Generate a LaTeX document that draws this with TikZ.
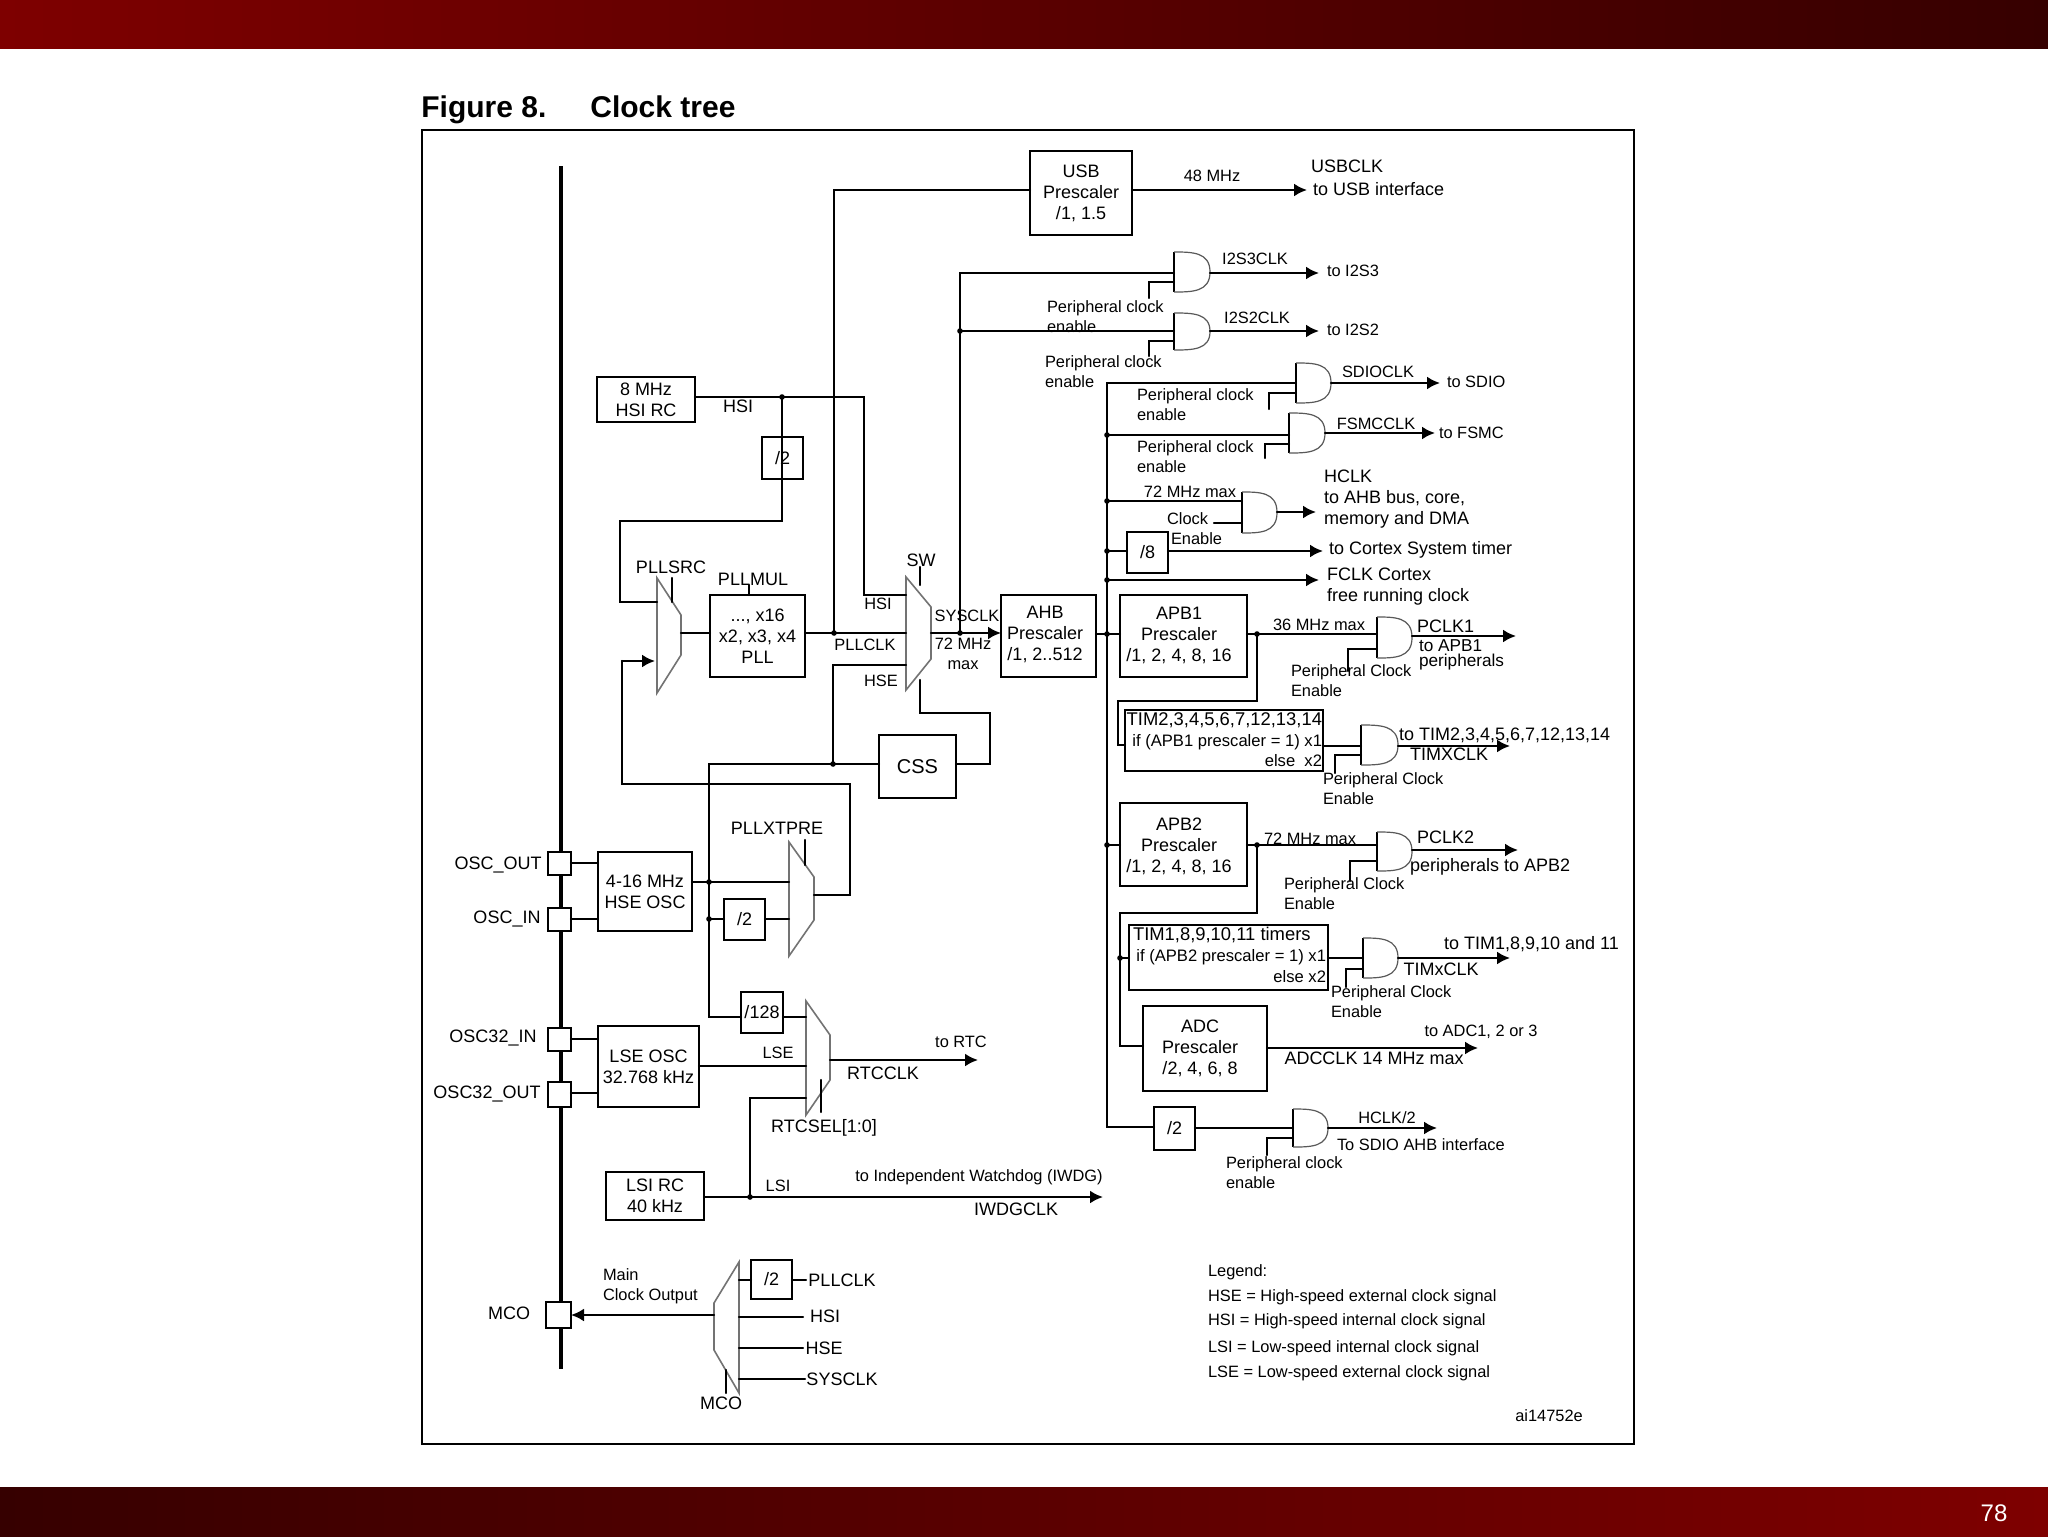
\documentclass[tikz,border=0pt]{standalone}
\usepackage{fontspec}
\setmainfont{Liberation Sans}
\usetikzlibrary{arrows.meta}
\definecolor{barlight}{HTML}{7E0000}
\definecolor{bardark}{HTML}{360000}
\tikzset{
  wire/.style={line width=1.15pt,line cap=round,line join=miter},
  arr/.style={wire,-{Latex[length=6.5pt,width=6.5pt]}},
  boxn/.style={draw,line width=1.15pt,inner sep=0pt,outer sep=0pt,align=center,font=\fontsize{9}{10.5}\selectfont},
  pinn/.style={draw,line width=1.15pt,fill=white,inner sep=0pt,outer sep=0pt},
  txt/.style={inner sep=0pt,outer sep=0pt,align=center,font=\fontsize{9}{10.5}\selectfont},
  txtl/.style={txt,align=left,anchor=west},
  sml/.style={inner sep=0pt,outer sep=0pt,align=center,font=\fontsize{8.2}{10}\selectfont},
  smll/.style={sml,align=left,anchor=west},
  jdot/.style={circle,fill=black,inner sep=0pt,minimum size=2.8pt},
  gatecurve/.style={draw=black!65,line width=0.6pt},
  muxline/.style={draw=black!55,line width=0.8pt,line join=miter},
}
% box by its corners
\newcommand{\bx}[6]{\node[boxn,minimum width={(#4-#2)*0.5pt},minimum height={(#5-#3)*0.5pt}] (#1) at ({(#2+#4)/2},{(#3+#5)/2}) {#6};}
% pin square
\newcommand{\pinsq}[5]{\node[pinn,minimum width={(#4-#2)*0.5pt},minimum height={(#5-#3)*0.5pt}] (#1) at ({(#2+#4)/2},{(#3+#5)/2}) {};}
% and gate: name, xl, yt, xr, yb
\newcommand{\andg}[5]{\node[inner sep=0pt,outer sep=0pt,minimum width={(#4-#2)*0.5pt},minimum height={(#5-#3)*0.5pt}] (#1) at ({(#2+#4)/2},{(#3+#5)/2}) {};
  \draw[wire,line cap=butt] (#1.north west) -- (#1.south west);
  \draw[gatecurve] (#1.north west) .. controls (#1.north) and (#1.north east) .. (#1.east) .. controls (#1.south east) and (#1.south) .. (#1.south west);}
% mux: name, x of long side, x of short side, ytop, y1, y2, ybottom
\newcommand{\muxn}[7]{\node[inner sep=0pt,outer sep=0pt,minimum width={abs(#3-#2)*0.5pt},minimum height={(#7-#4)*0.5pt}] (#1) at ({(#2+#3)/2},{(#4+#7)/2}) {};
  \draw[muxline] (#2,#4) -- (#3,#5) -- (#3,#6) -- (#2,#7) -- cycle;}
\begin{document}
\begin{tikzpicture}[x=0.5pt,y=-0.5pt]
\useasboundingbox (0,0) rectangle (2048,1536);
\fill[white] (0,0) rectangle (2048,1536);
\shade[left color=barlight,right color=bardark,shading angle=90] (0,0) rectangle (2048,49);
\shade[left color=bardark,right color=barlight,shading angle=90] (0,1487) rectangle (2048,1536);
\node[txt,text=white,font=\fontsize{12}{14}\selectfont] (pageno) at (1994,1513) {78};
\node[anchor=base west,inner sep=0pt,font=\bfseries\fontsize{15}{18}\selectfont] (figno) at (421,118) {Figure 8.};
\node[anchor=base west,inner sep=0pt,font=\bfseries\fontsize{15}{18}\selectfont] (figtitle) at (590,118) {Clock tree};
\draw[line width=1pt] (422,130) rectangle (1634,1444);

% vertical pin bus
\coordinate (bustop) at (561,166);
\coordinate (busbot) at (561,1369);
\draw[line width=2.3pt] (bustop) -- (busbot);
\pinsq{poscout}{548}{852}{571}{875}
\pinsq{poscin}{548}{908}{571}{931}
\pinsq{pos32in}{548}{1028}{571}{1051}
\pinsq{pos32out}{548}{1082}{571}{1107}
\pinsq{pmco}{546}{1302}{571}{1328}

% boxes
\bx{usb}{1030}{151}{1132}{235}{USB\\Prescaler\\/1, 1.5}
\bx{hsi}{597}{377}{695}{422}{8 MHz\\HSI RC}
\bx{divh}{762}{437}{803}{479}{/2}
\bx{pll}{710}{595}{805}{677}{..., x16\\x2, x3, x4\\PLL}
\bx{ahb}{1001}{595}{1096}{677}{}
\bx{css}{879}{735}{956}{798}{\fontsize{10}{12}\selectfont CSS}
\bx{hse}{598}{852}{692}{931}{\fontsize{9}{13.5}\selectfont 4-16 MHz\\HSE OSC}
\bx{dive}{724}{899}{765}{940}{/2}
\bx{d128}{741}{992}{783}{1033}{/128}
\bx{lse}{598}{1026}{699}{1107}{\fontsize{9}{12}\selectfont LSE OSC\\32.768 kHz}
\bx{lsi}{606}{1172}{704}{1220}{LSI RC\\40 kHz}
\bx{divm}{751}{1260}{792}{1299}{/2}
\bx{div8}{1127}{532}{1168}{573}{/8}
\bx{apb1}{1120}{595}{1247}{677}{}
\bx{apb2}{1120}{803}{1247}{886}{}
\bx{tima}{1125}{710}{1323}{771}{}
\bx{timb}{1129}{925}{1328}{990}{}
\bx{adc}{1143}{1006}{1267}{1091}{}
\bx{divs}{1154}{1107}{1195}{1150}{/2}

% muxes
\muxn{pllsrc}{657}{681}{578}{615}{655}{693}
\muxn{sw}{906}{931}{577}{607}{659}{690}
\muxn{xtpre}{789}{814}{842}{877}{920}{956}
\muxn{rtcm}{806}{830}{1001}{1035}{1080}{1115}
\muxn{mcom}{739}{714}{1262}{1303}{1350}{1393}

% gates
\andg{gi3}{1174}{252}{1210}{292}
\andg{gi2}{1174}{313}{1210}{350}
\andg{gsd}{1296}{363}{1331}{403}
\andg{gfs}{1289}{413}{1325}{453}
\andg{ghc}{1242}{492}{1277}{533}
\andg{gp1}{1377}{617}{1412}{658}
\andg{gt1}{1361}{725}{1398}{765}
\andg{gp2}{1377}{832}{1412}{871}
\andg{gt2}{1363}{938}{1398}{978}
\andg{ghd}{1293}{1109}{1328}{1147}

% junctions
\node[jdot] (jh) at (782,397) {};
\node[jdot] (jpll) at (834,633) {};
\node[jdot] (jsys) at (960,633) {};
\node[jdot] (jsysb) at (960,331) {};
\node[jdot] (jcss) at (833,764) {};
\node[jdot] (jhse) at (709,882) {};
\node[jdot] (jhseb) at (709,919) {};
\node[jdot] (jlsi) at (750,1197) {};
\node[jdot] (jb0) at (1107,634) {};
\node[jdot] (jb1) at (1107,435) {};
\node[jdot] (jb2) at (1107,501) {};
\node[jdot] (jb3) at (1107,551) {};
\node[jdot] (jb4) at (1107,580) {};
\node[jdot] (jb5) at (1107,845) {};
\node[jdot] (ja1) at (1257,634) {};
\node[jdot] (ja2) at (1257,845) {};
\node[jdot] (jt) at (1120,958) {};

% bends and free ends
\coordinate (bh1) at (864,595);
\coordinate (bp1) at (620,521);
\coordinate (bp2) at (620,602);
\coordinate (bsw1) at (920,567);
\coordinate (bsw2) at (920,585);
\coordinate (bsw3) at (920,680);
\coordinate (bsw4) at (990,713);
\coordinate (bhse) at (833,665);
\coordinate (bx1) at (850,895);
\coordinate (bx2) at (622,784);
\coordinate (bx3) at (622,661);
\coordinate (bcss) at (709,1017);
\coordinate (bl) at (750,1098);
\coordinate (bb) at (1107,383);
\coordinate (bbe) at (1107,1127);
\coordinate (bs1) at (960,273);
\coordinate (pllsrcs1) at (672,578);
\coordinate (pllsrcs2) at (672,602);
\coordinate (pmt) at (749,585);
\coordinate (xs1) at (805,840);
\coordinate (xs2) at (805,865);
\coordinate (rs1) at (821,1080);
\coordinate (rs2) at (821,1112);
\coordinate (ms1) at (726,1370);
\coordinate (ms2) at (726,1393);
\coordinate (ousb) at (1307,190);
\coordinate (oi3) at (1319,273);
\coordinate (oi2) at (1319,331);
\coordinate (osd) at (1440,383);
\coordinate (ofs) at (1435,433);
\coordinate (ohc) at (1316,512);
\coordinate (o8) at (1323,551);
\coordinate (ofc) at (1319,580);
\coordinate (op1) at (1516,636);
\coordinate (ot1) at (1510,746);
\coordinate (op2) at (1518,850);
\coordinate (ot2) at (1510,958);
\coordinate (oad) at (1478,1048);
\coordinate (ohd) at (1437,1128);
\coordinate (ortc) at (978,1060);
\coordinate (oiw) at (1103,1197);
\coordinate (inhs) at (655,661);
\coordinate (mhs) at (803,1317);
\coordinate (mse) at (803,1348);
\coordinate (msy) at (805,1379);
\coordinate (mpl) at (806,1280);
\coordinate (ce) at (1214,523);
\coordinate (e1) at (1149,298);
\coordinate (e2) at (1149,356);
\coordinate (e3) at (1269,409);
\coordinate (e4) at (1265,458);
\coordinate (e5) at (1348,671);
\coordinate (e6) at (1335,773);
\coordinate (e7) at (1350,881);
\coordinate (e8) at (1346,987);
\coordinate (e9) at (1267,1155);
\coordinate (a1) at (1118,701);
\coordinate (a2) at (1118,745);
\coordinate (a3) at (1120,913);
\coordinate (a4) at (1120,1046);

% left part wires
\draw[wire] (hsi.east |- jh) -- (jh.center);
\draw[wire] (jh.center) -| (bh1) -- (sw.west |- bh1);
\draw[wire] (jh.center) |- (bp1) |- (pllsrc.west |- bp2);
\draw[wire] (pllsrcs1) -- (pllsrcs2);
\draw[wire] (pll.north -| pmt) -- (pmt);
\draw[wire] (pllsrc.east |- jpll) -- (pll.west |- jpll);
\draw[wire] (pll.east |- jpll) -- (sw.west |- jpll);
\draw[wire] (jpll.center) |- (usb.west |- ousb);
\draw[arr] (usb.east |- ousb) -- (ousb);
\draw[arr] (sw.east |- jsys) -- (ahb.west |- jsys);
\draw[wire] (jsys.center) |- (gi3.west |- bs1);
\draw[wire] (jsysb.center) -- (gi2.west |- jsysb);
\draw[wire] (bsw1) -- (bsw2);
\draw[wire] (bsw3) |- (bsw4) |- (css.east |- jcss);
\draw[wire] (css.west |- jcss) -| (bcss) -- (d128.west |- bcss);
\draw[wire] (jcss.center) |- (sw.west |- bhse);
\draw[wire] (poscout.east |- 0,863) -- (hse.west |- 0,863);
\draw[wire] (poscin.east |- 0,919) -- (hse.west |- 0,919);
\draw[wire] (hse.east |- jhse) -- (xtpre.west |- jhse);
\draw[wire] (jhseb.center) -- (dive.west |- jhseb);
\draw[wire] (dive.east |- jhseb) -- (xtpre.west |- jhseb);
\draw[wire] (xs1) -- (xs2);
\draw[wire] (xtpre.east |- bx1) -- (bx1) |- (bx2) -- (bx3);
\draw[arr] (bx3) -- (inhs);
\draw[wire] (d128.east |- bcss) -- (rtcm.west |- bcss);
\draw[wire] (pos32in.east |- 0,1039) -- (lse.west |- 0,1039);
\draw[wire] (pos32out.east |- 0,1093) -- (lse.west |- 0,1093);
\draw[wire] (lse.east |- 0,1066) -- (rtcm.west |- 0,1066);
\draw[arr] (rtcm.east |- ortc) -- (ortc);
\draw[wire] (rs1) -- (rs2);
\draw[wire] (jlsi.center) |- (rtcm.west |- bl);
\draw[arr] (lsi.east |- jlsi) -- (oiw);
\draw[arr] (mcom.west |- pmco) -- (pmco.east);
\draw[wire] (mcom.east |- mpl) -- (divm.west |- mpl);
\draw[wire] (divm.east |- mpl) -- (mpl);
\draw[wire] (mcom.east |- mhs) -- (mhs);
\draw[wire] (mcom.east |- mse) -- (mse);
\draw[wire] (mcom.east |- msy) -- (msy);
\draw[wire] (ms1) -- (ms2);

% right part wires
\draw[wire] (ahb.east |- jb0) -- (apb1.west |- jb0);
\draw[wire] (gsd.west) -| (bb) -- (bbe) -- (divs.west |- bbe);
\draw[wire] (jb1.center) -- (gfs.west |- jb1);
\draw[wire] (jb2.center) -- (ghc.west |- jb2);
\draw[wire] (jb3.center) -- (div8.west |- jb3);
\draw[arr] (div8.east |- jb3) -- (o8);
\draw[arr] (jb4.center) -- (ofc);
\draw[wire] (jb5.center) -- (apb2.west |- jb5);
\draw[wire] (apb1.east |- ja1) -- (gp1.west |- ja1);
\draw[wire] (apb2.east |- ja2) -- (gp2.west |- ja2);
\draw[wire] (ja1.center) |- (a1) -- (a2) -- (tima.west |- a2);
\draw[wire] (ja2.center) |- (a3) -- (a4) -- (adc.west |- a4);
\draw[wire] (jt.center) -- (timb.west |- jt);
\draw[wire] (tima.east |- ot1) -- (gt1.west |- ot1);
\draw[wire] (timb.east |- ot2) -- (gt2.west |- ot2);
\draw[wire] (divs.east |- ohd) -- (ghd.west |- ohd);
\draw[arr] (gi3.east |- oi3) -- (oi3);
\draw[arr] (gi2.east |- oi2) -- (oi2);
\draw[arr] (gsd.east) -- (osd);
\draw[arr] (gfs.east |- ofs) -- (ofs);
\draw[arr] (ghc.east |- ohc) -- (ohc);
\draw[arr] (gp1.east |- op1) -- (op1);
\draw[arr] (gt1.east |- ot1) -- (ot1);
\draw[arr] (gp2.east |- op2) -- (op2);
\draw[arr] (gt2.east |- ot2) -- (ot2);
\draw[arr] (adc.east |- oad) -- (oad);
\draw[arr] (ghd.east |- ohd) -- (ohd);
\draw[wire] (ce) -- (ghc.west |- ce);
\draw[wire] (e1) |- (gi3.west |- 0,282);
\draw[wire] (e2) |- (gi2.west |- 0,341);
\draw[wire] (e3) |- (gsd.west |- 0,393);
\draw[wire] (e4) |- (gfs.west |- 0,444);
\draw[wire] (e5) |- (gp1.west |- 0,649);
\draw[wire] (e6) |- (gt1.west |- 0,755);
\draw[wire] (e7) |- (gp2.west |- 0,861);
\draw[wire] (e8) |- (gt2.west |- 0,969);
\draw[wire] (e9) |- (ghd.west |- 0,1138);

% labels
\node[txt] (lahb) at (1045,634) {AHB\\Prescaler\\/1, 2..512};
\node[txt] (lapb1) at (1179,635) {APB1\\Prescaler\\/1, 2, 4, 8, 16};
\node[txt] (lapb2) at (1179,846) {APB2\\Prescaler\\/1, 2, 4, 8, 16};
\node[txt] (ladcb) at (1200,1048) {ADC\\Prescaler\\/2, 4, 6, 8};
\node[txt] (lhsia) at (738,406) {HSI};
\node[txt] (lpllsrc) at (671,567) {PLLSRC};
\node[txt] (lpllmul) at (753,579) {PLLMUL};
\node[txt] (lsw) at (921,560) {SW};
\node[sml] (lhsib) at (878,604) {HSI};
\node[sml] (lsysclk) at (967,616) {SYSCLK};
\node[sml] (lpllclk) at (865,645) {PLLCLK};
\node[sml] (l72) at (963,654) {72 MHz\\max};
\node[sml] (lhse) at (881,681) {HSE};
\node[txt] (lxtpre) at (777,828) {PLLXTPRE};
\node[txt] (loscout) at (498,865) {OSC\_OUT};
\node[txt] (loscin) at (507,919) {OSC\_IN};
\node[txt] (los32i) at (493,1038) {OSC32\_IN};
\node[txt] (los32o) at (487,1094) {OSC32\_OUT};
\node[sml] (llse) at (778,1053) {LSE};
\node[sml] (ltortc) at (961,1042) {to RTC};
\node[txt] (lrtcclk) at (883,1073) {RTCCLK};
\node[txt] (lrtcsel) at (824,1128) {RTCSEL[1:0]};
\node[sml] (llsilab) at (778,1186) {LSI};
\node[sml] (liwdg) at (979,1177) {to Independent Watchdog (IWDG)};
\node[txt] (liwdgclk) at (1016,1209) {IWDGCLK};
\node[smll] (lmain) at (603,1286) {Main\\Clock Output};
\node[txt] (lmcoa) at (509,1313) {MCO};
\node[txt] (lpl) at (842,1280) {PLLCLK};
\node[txt] (lhs) at (825,1316) {HSI};
\node[txt] (lhe) at (824,1348) {HSE};
\node[txt] (lsy) at (842,1379) {SYSCLK};
\node[txt] (lmcob) at (721,1403) {MCO};
\node[sml] (l48) at (1212,176) {48 MHz};
\node[txtl] (lusbclk) at (1311,166) {USBCLK};
\node[txtl] (ltousb) at (1313,189) {to USB interface};
\node[sml] (li3) at (1255,259) {I2S3CLK};
\node[smll] (lto3) at (1327,271) {to I2S3};
\node[sml] (li2) at (1257,318) {I2S2CLK};
\node[smll] (lto2) at (1327,330) {to I2S2};
\node[smll] (lpa) at (1047,317) {Peripheral clock\\enable};
\node[smll] (lpb) at (1045,372) {Peripheral clock\\enable};
\node[sml] (lsd) at (1378,372) {SDIOCLK};
\node[smll] (ltsd) at (1447,382) {to SDIO};
\node[smll] (lpc) at (1137,405) {Peripheral clock\\enable};
\node[sml] (lfs) at (1376,424) {FSMCCLK};
\node[smll] (ltfs) at (1439,433) {to FSMC};
\node[smll] (lpd) at (1137,457) {Peripheral clock\\enable};
\node[sml] (l72a) at (1190,492) {72 MHz max};
\node[txtl] (lhclk) at (1324,499) {HCLK\\to AHB bus, core,\\memory and DMA};
\node[smll] (lcen) at (1167,529) {Clock\\\hspace*{2pt}Enable};
\node[txtl] (ltcs) at (1329,550) {to Cortex System timer};
\node[txtl] (lfclk) at (1327,587) {FCLK Cortex\\free running clock};
\node[sml] (l36) at (1319,625) {36 MHz max};
\node[txtl] (lpc1) at (1417,626) {PCLK1};
\node[smll,font=\fontsize{8.6}{7.6}\selectfont] (lta1) at (1419,655) {to APB1\\peripherals};
\node[smll] (lpe) at (1291,681) {Peripheral Clock\\Enable};
\node[txt,anchor=east,align=right,font=\fontsize{8.3}{10.2}\selectfont] (ltima) at (1322,740) {{\fontsize{9.2}{10.2}\selectfont TIM2,3,4,5,6,7,12,13,14}\\if (APB1 prescaler = 1) x1\\else\ \ x2};
\node[txtl] (ltot1) at (1399,735) {to TIM2,3,4,5,6,7,12,13,14};
\node[txt] (ltimx) at (1449,754) {TIMXCLK};
\node[smll] (lpf) at (1323,789) {Peripheral Clock\\Enable};
\node[sml] (l72b) at (1310,839) {72 MHz max};
\node[txtl] (lpc2) at (1417,837) {PCLK2};
\node[txtl] (lpa2) at (1410,867) {peripherals to APB2};
\node[smll] (lpg) at (1284,894) {Peripheral Clock\\Enable};
\node[txtl,font=\fontsize{9.2}{10.2}\selectfont] (ltimb) at (1133,935) {TIM1,8,9,10,11 timers};
\node[txt,anchor=east,align=right,font=\fontsize{8.3}{10.2}\selectfont] (ltimc) at (1326,966) {if (APB2 prescaler = 1) x1\\else x2};
\node[txtl] (ltot2) at (1444,944) {to TIM1,8,9,10 and 11};
\node[txt] (ltimx2) at (1441,969) {TIMxCLK};
\node[smll] (lph) at (1331,1002) {Peripheral Clock\\Enable};
\node[sml] (ltad) at (1481,1032) {to ADC1, 2 or 3};
\node[txt] (ladc) at (1374,1058) {ADCCLK 14 MHz max};
\node[sml] (lhd) at (1387,1118) {HCLK/2};
\node[smll] (ltsa) at (1337,1145) {To SDIO AHB interface};
\node[smll] (lpi) at (1226,1173) {Peripheral clock\\enable};
\node[smll] (lleg) at (1208,1272) {Legend:};
\node[smll] (lhe1) at (1208,1297) {HSE = High-speed external clock signal};
\node[smll] (lhi1) at (1208,1321) {HSI = High-speed internal clock signal};
\node[smll] (lli1) at (1208,1348) {LSI = Low-speed internal clock signal};
\node[smll] (lle1) at (1208,1373) {LSE = Low-speed external clock signal};
\node[sml] (lai) at (1549,1416) {ai14752e};
\end{tikzpicture}
\end{document}
